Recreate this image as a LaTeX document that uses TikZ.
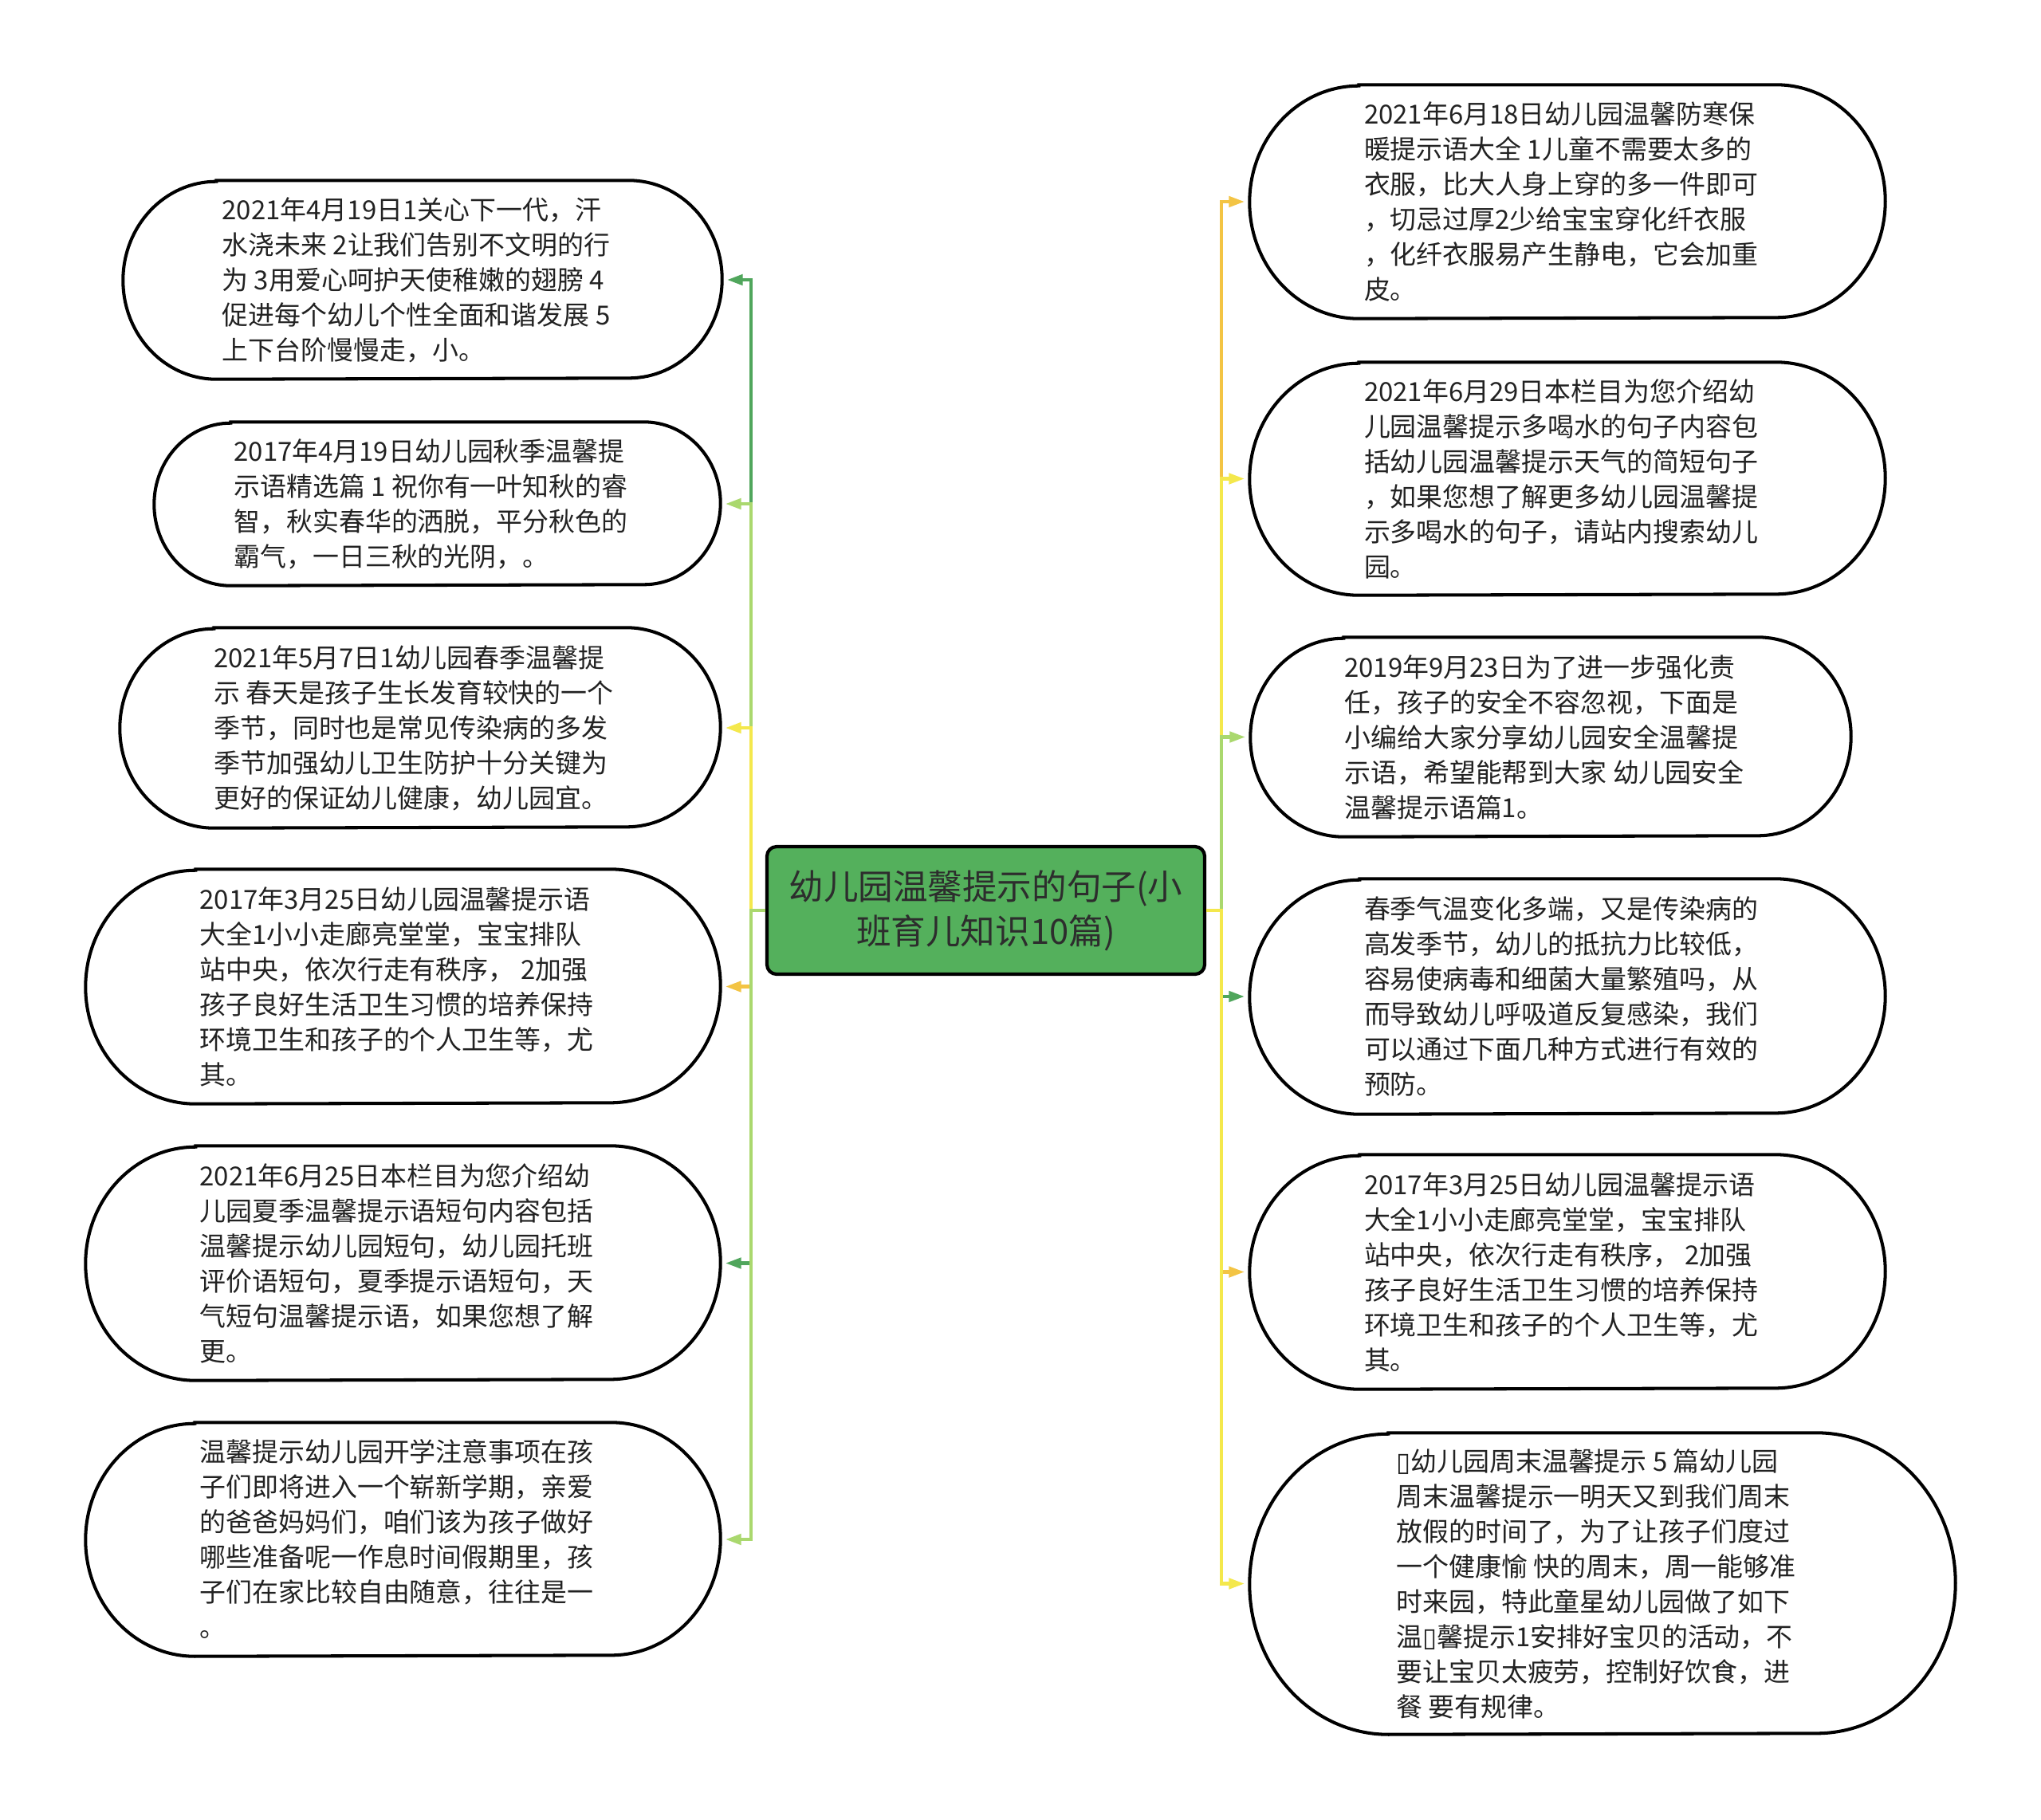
\documentclass[tikz,border=0pt]{standalone}
\usepackage{fontspec}
\setmainfont{Noto Sans CJK SC}
\newfontfamily\dvfont{DejaVu Sans}
\usetikzlibrary{arrows.meta}
\definecolor{dgreen}{RGB}{80,166,92}
\definecolor{lgreen}{RGB}{170,216,110}
\definecolor{yel}{RGB}{244,232,76}
\definecolor{org}{RGB}{243,196,68}
\definecolor{mainfill}{RGB}{84,176,92}
\definecolor{txt}{RGB}{34,34,34}
\definecolor{maintxt}{RGB}{45,45,45}
\newcommand\drawbub[3]{\draw[bubline] ([xshift=#2]#1.north west) -- ([xshift=-#2]#1.north east) arc[start angle=90,end angle=-90,x radius=#2,y radius=#3] -- ([xshift=#2]#1.south west) arc[start angle=270,end angle=90,x radius=#2,y radius=#3] -- cycle;}
\newcommand\nb{{\dvfont ▯}}
\newcommand\bt[1]{\vbox{\kern0.08cm\hbox{\begin{tabular}{@{}l@{\hspace{0.16cm}}}#1\end{tabular}}}}
\tikzset{
  bub/.style={inner sep=0pt, text=txt, font=\fontsize{9.37pt}{12.5pt}\selectfont},
  bubline/.style={line width=1.15pt, black},
  mainbox/.style={draw=black, line width=1.2pt, fill=mainfill, rounded corners=0.12cm, inner sep=0pt, align=center, text=maintxt, font=\fontsize{12.4pt}{15.9pt}\selectfont, minimum width=5.49cm, minimum height=1.60cm},
  conn/.style={line width=1.3pt, -{Triangle[length=0.2cm,width=0.13cm]}, shorten >=0.06cm}
}
\begin{document}
\begin{tikzpicture}
\useasboundingbox (0,0) rectangle (25.6,-22.83);
\fill[white] (0,0) rectangle (25.6,-22.83);

\node[mainbox] (main) at (12.365,-11.42) {幼儿园温馨提示的句子(小\\班育儿知识10篇)};

% left nodes
\node[bub, minimum width=7.50cm, minimum height=2.48cm] (l1) at (5.30,-3.51) {\bt{2021年4月19日1关心下一代，汗\\水浇未来 2让我们告别不文明的行\\为 3用爱心呵护天使稚嫩的翅膀 4\\促进每个幼儿个性全面和谐发展 5\\上下台阶慢慢走，小。}};
\node[bub, minimum width=7.09cm, minimum height=2.04cm] (l2) at (5.485,-6.32) {\bt{2017年4月19日幼儿园秋季温馨提\\示语精选篇 1 祝你有一叶知秋的睿\\智，秋实春华的洒脱，平分秋色的\\霸气，一日三秋的光阴，。}};
\node[bub, minimum width=7.52cm, minimum height=2.50cm] (l3) at (5.27,-9.13) {\bt{2021年5月7日1幼儿园春季温馨提\\示 春天是孩子生长发育较快的一个\\季节，同时也是常见传染病的多发\\季节加强幼儿卫生防护十分关键为\\更好的保证幼儿健康，幼儿园宜。}};
\node[bub, minimum width=7.95cm, minimum height=2.93cm] (l4) at (5.055,-12.375) {\bt{2017年3月25日幼儿园温馨提示语\\大全1小小走廊亮堂堂，宝宝排队\\站中央，依次行走有秩序， 2加强\\孩子良好生活卫生习惯的培养保持\\环境卫生和孩子的个人卫生等，尤\\其。}};
\node[bub, minimum width=7.95cm, minimum height=2.93cm] (l5) at (5.055,-15.845) {\bt{2021年6月25日本栏目为您介绍幼\\儿园夏季温馨提示语短句内容包括\\温馨提示幼儿园短句，幼儿园托班\\评价语短句，夏季提示语短句，天\\气短句温馨提示语，如果您想了解\\更。}};
\node[bub, minimum width=7.95cm, minimum height=2.92cm] (l6) at (5.055,-19.31) {\bt{温馨提示幼儿园开学注意事项在孩\\子们即将进入一个崭新学期，亲爱\\的爸爸妈妈们，咱们该为孩子做好\\哪些准备呢一作息时间假期里，孩\\子们在家比较自由随意，往往是一\\。}};

% right nodes
\node[bub, minimum width=7.96cm, minimum height=2.92cm] (r1) at (19.66,-2.53) {\bt{2021年6月18日幼儿园温馨防寒保\\暖提示语大全 1儿童不需要太多的\\衣服，比大人身上穿的多一件即可\\，切忌过厚2少给宝宝穿化纤衣服\\，化纤衣服易产生静电，它会加重\\皮。}};
\node[bub, minimum width=7.96cm, minimum height=2.91cm] (r2) at (19.66,-6.005) {\bt{2021年6月29日本栏目为您介绍幼\\儿园温馨提示多喝水的句子内容包\\括幼儿园温馨提示天气的简短句子\\，如果您想了解更多幼儿园温馨提\\示多喝水的句子，请站内搜索幼儿\\园。}};
\node[bub, minimum width=7.52cm, minimum height=2.49cm] (r3) at (19.45,-9.245) {\bt{2019年9月23日为了进一步强化责\\任，孩子的安全不容忽视，下面是\\小编给大家分享幼儿园安全温馨提\\示语，希望能帮到大家 幼儿园安全\\温馨提示语篇1。}};
\node[bub, minimum width=7.96cm, minimum height=2.94cm] (r4) at (19.66,-12.50) {\bt{春季气温变化多端，又是传染病的\\高发季节，幼儿的抵抗力比较低，\\容易使病毒和细菌大量繁殖吗，从\\而导致幼儿呼吸道反复感染，我们\\可以通过下面几种方式进行有效的\\预防。}};
\node[bub, minimum width=7.96cm, minimum height=2.93cm] (r5) at (19.66,-15.955) {\bt{2017年3月25日幼儿园温馨提示语\\大全1小小走廊亮堂堂，宝宝排队\\站中央，依次行走有秩序， 2加强\\孩子良好生活卫生习惯的培养保持\\环境卫生和孩子的个人卫生等，尤\\其。}};
\node[bub, minimum width=8.84cm, minimum height=3.77cm] (r6) at (20.10,-19.865) {\bt{\nb 幼儿园周末温馨提示 5 篇幼儿园\\周末温馨提示一明天又到我们周末\\放假的时间了，为了让孩子们度过\\一个健康愉 快的周末，周一能够准\\时来园，特此童星幼儿园做了如下\\温\nb 馨提示1安排好宝贝的活动，不\\要让宝贝太疲劳，控制好饮食，进\\餐 要有规律。}};

% shapes
\drawbub{l1}{1.17cm}{1.24cm}
\drawbub{l2}{0.96cm}{1.02cm}
\drawbub{l3}{1.18cm}{1.25cm}
\drawbub{l4}{1.38cm}{1.465cm}
\drawbub{l5}{1.38cm}{1.465cm}
\drawbub{l6}{1.37cm}{1.46cm}
\drawbub{r1}{1.37cm}{1.46cm}
\drawbub{r2}{1.37cm}{1.455cm}
\drawbub{r3}{1.17cm}{1.245cm}
\drawbub{r4}{1.38cm}{1.47cm}
\drawbub{r5}{1.38cm}{1.465cm}
\drawbub{r6}{1.74cm}{1.885cm}

% connectors
\coordinate (lt) at (9.42,-11.42);
\coordinate (rt) at (15.32,-11.42);
\draw[conn,dgreen] (main.west) -- (lt) -- (lt |- l1.east) -- (l1.east);
\draw[conn,lgreen] (main.west) -- (lt) -- (lt |- l2.east) -- (l2.east);
\draw[conn,yel] (main.west) -- (lt) -- (lt |- l3.east) -- (l3.east);
\draw[conn,org] (main.west) -- (lt) -- (lt |- l4.east) -- (l4.east);
\draw[conn,dgreen] (main.west) -- (lt) -- (lt |- l5.east) -- (l5.east);
\draw[conn,lgreen] (main.west) -- (lt) -- (lt |- l6.east) -- (l6.east);

\draw[conn,org] (main.east) -- (rt) -- (rt |- r1.west) -- (r1.west);
\draw[conn,yel] (main.east) -- (rt) -- (rt |- r2.west) -- (r2.west);
\draw[conn,lgreen] (main.east) -- (rt) -- (rt |- r3.west) -- (r3.west);
\draw[conn,dgreen] (main.east) -- (rt) -- (rt |- r4.west) -- (r4.west);
\draw[conn,org] (main.east) -- (rt) -- (rt |- r5.west) -- (r5.west);
\draw[conn,yel] (main.east) -- (rt) -- (rt |- r6.west) -- (r6.west);
\end{tikzpicture}
\end{document}
